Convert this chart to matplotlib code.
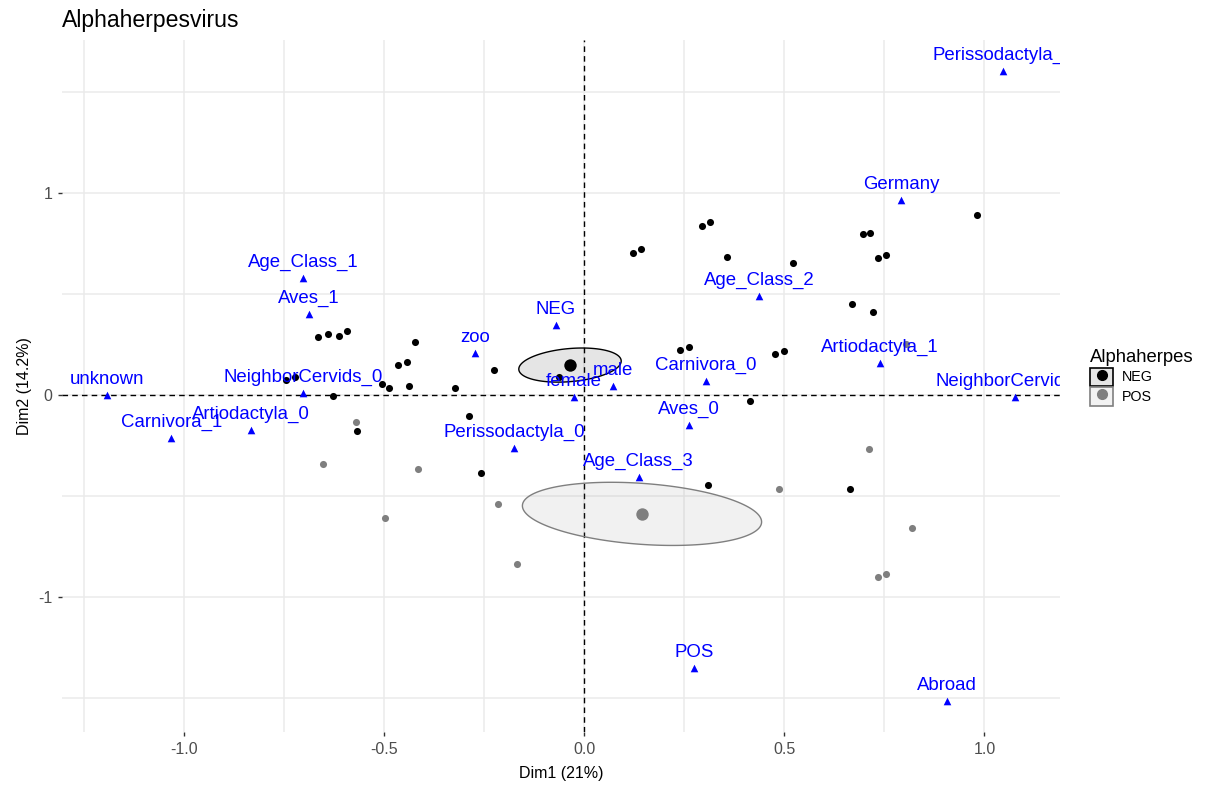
import matplotlib
matplotlib.use("Agg")
import matplotlib.pyplot as plt
import numpy as np
from matplotlib.lines import Line2D
from matplotlib.patches import Patch, Polygon

plt.rcParams["font.family"] = ["Liberation Sans", "DejaVu Sans"]

NEG_COLOR = "#000000"
POS_COLOR = "#7f7f7f"
LABEL_COLOR = "#0000ff"
GRID_COLOR = "#ebebeb"

# individuals (Dim1, Dim2)
neg_x = [-0.666, -0.641, -0.613, -0.593, -0.423, -0.466, -0.443, -0.746, -0.723, -0.506,
         -0.488, -0.438, -0.628, -0.568, -0.226, -0.323, -0.063, 0.239, 0.261, 0.477,
         0.499, 0.414, -0.288, -0.258, 0.309, 0.122, 0.142, 0.293, 0.313, 0.357,
         0.522, 0.982, 0.697, 0.714, 0.734, 0.754, 0.669, 0.722, 0.664]
neg_y = [0.288, 0.303, 0.293, 0.318, 0.263, 0.149, 0.164, 0.075, 0.090, 0.055,
         0.036, 0.045, -0.004, -0.177, 0.125, 0.036, 0.090, 0.224, 0.239, 0.204,
         0.219, -0.029, -0.105, -0.385, -0.444, 0.703, 0.723, 0.837, 0.857, 0.684,
         0.654, 0.891, 0.797, 0.802, 0.679, 0.693, 0.451, 0.412, -0.464]
pos_x = [-0.571, -0.653, -0.416, -0.498, 0.487, -0.216, -0.168, 0.804, 0.711, 0.819, 0.734, 0.754]
pos_y = [-0.133, -0.341, -0.366, -0.608, -0.464, -0.538, -0.835, 0.254, -0.266, -0.657, -0.900, -0.885]

# group centroids and ellipse semi-diameters (data units)
groups = ["NEG", "POS"]
centroid_x = [-0.036, 0.144]
centroid_y = [0.149, -0.587]
ell_major = [(0.128, 0.020), (0.299, -0.040)]
ell_minor = [(0.0, 0.082), (0.0, 0.151)]

# variable categories
var_names = ["Perissodactyla_1", "Germany", "Age_Class_1", "Aves_1", "Age_Class_2", "NEG",
             "zoo", "Artiodactyla_1", "unknown", "NeighborCervids_0", "Carnivora_0", "male",
             "female", "NeighborCervids_1", "Aves_0", "Artiodactyla_0", "Carnivora_1",
             "Perissodactyla_0", "Age_Class_3", "POS", "Abroad"]
var_x = [1.047, 0.792, -0.703, -0.688, 0.437, -0.071, -0.273, 0.739, -1.194, -0.703, 0.304,
         0.072, -0.026, 1.077, 0.261, -0.834, -1.033, -0.176, 0.136, 0.274, 0.907]
var_y = [1.605, 0.966, 0.580, 0.402, 0.490, 0.347, 0.209, 0.160, 0.0, 0.011, 0.070,
         0.046, -0.009, -0.009, -0.148, -0.172, -0.212, -0.261, -0.404, -1.350, -1.513]


def main():
    fig = plt.figure(figsize=(12.05, 7.87), dpi=100)
    ax = fig.add_axes([62 / 1205, 55 / 787, 998 / 1205, 692 / 787])

    ax.set_xlim(-1.306, 1.189)
    ax.set_ylim(-1.666, 1.757)

    ax.set_xticks([-1.0, -0.5, 0.0, 0.5, 1.0])
    ax.set_xticks([-1.25, -0.75, -0.25, 0.25, 0.75], minor=True)
    ax.set_yticks([-1, 0, 1])
    ax.set_yticks([-1.5, -0.5, 0.5, 1.5], minor=True)
    ax.set_xticklabels(["-1.0", "-0.5", "0.0", "0.5", "1.0"])
    ax.set_yticklabels(["-1", "0", "1"])

    ax.grid(True, which="both", color=GRID_COLOR, linewidth=1.1)
    ax.set_axisbelow(True)
    for s in ax.spines.values():
        s.set_visible(False)
    ax.tick_params(which="major", length=3, width=1, color="#333333",
                   labelcolor="#4d4d4d", labelsize=11.5, pad=4)
    ax.tick_params(which="minor", length=0)

    ax.axhline(0, color="black", linestyle=(0, (4, 3)), linewidth=1, zorder=1)
    ax.axvline(0, color="black", linestyle=(0, (4, 3)), linewidth=1, zorder=1)

    ax.scatter(neg_x, neg_y, s=26, color=NEG_COLOR, linewidths=0, zorder=3)
    ax.scatter(pos_x, pos_y, s=26, color=POS_COLOR, linewidths=0, zorder=3)

    t = np.linspace(0, 2 * np.pi, 200)
    for i, col in enumerate([NEG_COLOR, POS_COLOR]):
        ex = centroid_x[i] + np.cos(t) * ell_major[i][0] + np.sin(t) * ell_minor[i][0]
        ey = centroid_y[i] + np.cos(t) * ell_major[i][1] + np.sin(t) * ell_minor[i][1]
        ax.add_patch(Polygon(np.column_stack([ex, ey]), closed=True, facecolor=col,
                             alpha=0.1, edgecolor="none", zorder=2))
        ax.add_patch(Polygon(np.column_stack([ex, ey]), closed=True, facecolor="none",
                             edgecolor=col, linewidth=1, zorder=2))
        ax.scatter(centroid_x[i], centroid_y[i], s=80, color=col, linewidths=0, zorder=4)

    ax.scatter(var_x, var_y, marker="^", s=30, color=LABEL_COLOR, linewidths=0, zorder=5)
    for name, x, y in zip(var_names, var_x, var_y):
        ann = ax.annotate(name, (x, y), xytext=(0, 11), textcoords="offset points",
                          ha="center", va="center", color=LABEL_COLOR, fontsize=13.4,
                          zorder=6, clip_on=True)
        ann.set_clip_box(ax.bbox)

    ax.set_title("Alphaherpesvirus", loc="left", fontsize=16.6, pad=9)
    ax.set_xlabel("Dim1 (21%)", fontsize=11.5, labelpad=7)
    ax.set_ylabel("Dim2 (14.2%)", fontsize=11.5, labelpad=4)

    handles = []
    for col in [NEG_COLOR, POS_COLOR]:
        box = Patch(facecolor=(0, 0, 0, 0.1) if col == NEG_COLOR else (0.5, 0.5, 0.5, 0.1),
                    edgecolor=col, linewidth=1.2)
        dot = Line2D([], [], marker="o", linestyle="", color=col, markersize=7)
        handles.append((box, dot))
    fig.legend(handles, groups, title="Alphaherpes", loc="upper left",
               bbox_to_anchor=(1083 / 1205, 1 - 342 / 787), frameon=False,
               fontsize=10.3, title_fontsize=13.3, handlelength=1.6,
               handleheight=1.6, handletextpad=0.6, labelspacing=0.1,
               borderpad=0, alignment="left")

    fig.savefig("out.png", dpi=100)


if __name__ == "__main__":
    main()
